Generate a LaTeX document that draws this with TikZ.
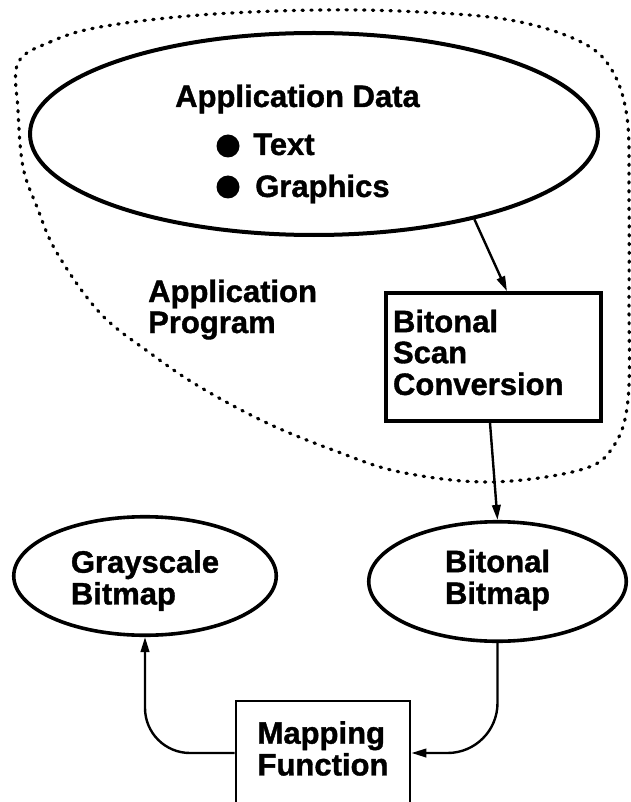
\documentclass[tikz,border=0pt]{standalone}
\usepackage{fontspec}
\setmainfont{Liberation Sans}[BoldFeatures={FakeBold=1.2}]
\usetikzlibrary{shapes.geometric,arrows.meta}
% stacked lines whose first baseline is the box baseline
\newcommand{\txtstack}[1]{\begin{tabular}[t]{@{}l@{}}#1\end{tabular}}
\begin{document}
\begin{tikzpicture}[x=1pt,y=-1pt,
  lbl/.style={font=\fontsize{31}{31}\selectfont\bfseries, inner sep=0pt},
  oval/.style={ellipse, draw, line width=3.6pt, inner sep=0pt, lbl},
  procbox/.style={rectangle, draw, line width=3.6pt, lbl},
  bullet/.style={circle, fill, inner sep=0pt, minimum size=23pt},
  arr/.style={line width=2.4pt, -{Triangle[length=15pt,width=8.5pt]}},
  dots/.style={line width=3.2pt, line cap=round, dash pattern=on 1.4pt off 7.4pt}]
\useasboundingbox (0,0) rectangle (630,802);

% boundary of the application program
\draw[dots] plot[smooth cycle, tension=0.6] coordinates {
  (18,63) (50,42) (100,27) (200,15) (320,10) (420,12) (510,20) (577,40)
  (610,67) (627,117) (629,200) (629,300) (628,400) (613,447) (580,470)
  (490,482) (400,472) (333,450) (267,423) (200,387) (150,353) (100,313)
  (57,253) (37,207) (23,167) (18,110)};

% application data
\node[oval, line width=4pt, minimum width=568pt, minimum height=202pt] (appdata) at (314,134) {};
\node[lbl, anchor=base] (apptitle) at (297.5,107) {Application Data};
\node[bullet] (dot1) at (228,146) {};
\node[lbl, anchor=base west] (itemtext) at (253,155) {Text};
\node[bullet] (dot2) at (228,187) {};
\node[lbl, anchor=base west] (itemgfx) at (255,197) {Graphics};

\node[lbl, anchor=base west] (progtext) at (148,302) {\txtstack{Application\\Program}};

% processing steps
\node[procbox, text width=201pt, inner xsep=7pt, minimum height=128pt, align=left] (scan) at (493.5,357) {\txtstack{Bitonal\\Scan\\Conversion}};
\node[oval, minimum width=257.5pt, minimum height=119.5pt] (bitbmp) at (497.5,581.5) {\txtstack{Bitonal\\Bitmap}};
\node[oval, minimum width=262.5pt, minimum height=118.5pt] (gray) at (145,576) {\raisebox{-6pt}[\height][\depth]{\txtstack{Grayscale\\Bitmap}}};
\node[procbox, line width=2.8pt, minimum width=174pt, minimum height=104pt] (map) at (323,753) {\txtstack{Mapping\\Function}};

% connectors
\coordinate (scanin) at ([xshift=13.5pt]scan.north);
\draw[arr] (appdata.-28.5) -- (scanin);
\draw[arr] ([xshift=-3.5pt]scan.south) -- (bitbmp.north);
\draw[arr, rounded corners=50pt] (bitbmp.south) |- (map.east);
\draw[arr, rounded corners=45pt] (map.west) -| (gray.south);
\end{tikzpicture}
\end{document}
